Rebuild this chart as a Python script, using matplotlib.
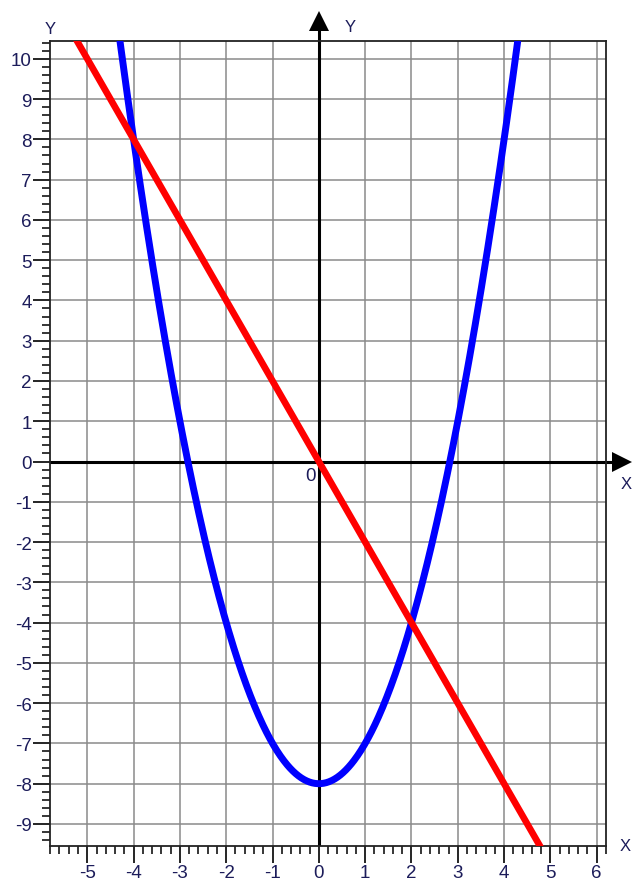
import numpy as np
import matplotlib
matplotlib.use("Agg")
import matplotlib.pyplot as plt
from matplotlib.ticker import MultipleLocator, FixedLocator

# y = x^2 - 8 (blue) and y = -2x (red)
parabola_coeffs = [1, 0, -8]
line_coeffs = [-2, 0]

x_ticks = [-5, -4, -3, -2, -1, 0, 1, 2, 3, 4, 5, 6]
y_ticks = [-9, -8, -7, -6, -5, -4, -3, -2, -1, 0, 1, 2, 3, 4, 5, 6, 7, 8, 9, 10]
x_range = (-5.805, 6.20)
y_range = (-9.54, 10.45)

label_color = "#1c1c5a"
plt.rcParams["font.family"] = ["Liberation Sans", "DejaVu Sans"]

fig = plt.figure(figsize=(6.32, 8.87), dpi=100)
ax = fig.add_axes([50 / 632, 1 - 846.7 / 887, 556 / 632, 805 / 887])
ax.set_xlim(*x_range)
ax.set_ylim(*y_range)

# grid on integer positions
ax.xaxis.set_major_locator(FixedLocator(x_ticks))
ax.yaxis.set_major_locator(FixedLocator(y_ticks))
ax.xaxis.set_minor_locator(MultipleLocator(0.2))
ax.yaxis.set_minor_locator(MultipleLocator(0.2))
ax.grid(True, which="major", color="#8a8a8a", lw=1.1, zorder=0)
ax.set_xticklabels([str(v) for v in x_ticks])
ax.set_yticklabels([str(v) for v in y_ticks])
ax.tick_params(which="major", direction="out", length=12, width=1.2,
               color="black", labelsize=13.5, labelcolor=label_color, pad=1)
ax.tick_params(which="minor", direction="out", length=5.5, width=1.1, color="black")
for s in ax.spines.values():
    s.set_color("#222222")
    s.set_linewidth(1.3)

# coordinate axes, arrowheads sit past the frame
ax.plot(x_range, [0, 0], color="black", lw=2.2, zorder=2)
ax.plot([0, 0], y_range, color="black", lw=2.2, zorder=2)
ax.plot([0, 0], [y_range[1], 10.8], color="black", lw=2.2, clip_on=False, zorder=2)
ax.plot([0], [10.93], marker="^", markersize=15, color="black",
        markeredgewidth=0, clip_on=False, zorder=2)
ax.plot([x_range[1], 6.4], [0, 0], color="black", lw=2.2, clip_on=False, zorder=2)
ax.plot([6.55], [0], marker=">", markersize=15, color="black",
        markeredgewidth=0, clip_on=False, zorder=2)

xs = np.linspace(x_range[0], x_range[1], 800)
ax.plot(xs, np.polyval(parabola_coeffs, xs), color="#0000ff", lw=5.0,
        solid_capstyle="butt", zorder=3)
ax.plot(xs, np.polyval(line_coeffs, xs), color="#ff0000", lw=4.8,
        solid_capstyle="butt", zorder=4)

# axis letters
fig.text(50 / 632, 1 - 29 / 887, "Y", ha="center", va="center",
         fontsize=12, color=label_color)
fig.text(350 / 632, 1 - 27 / 887, "Y", ha="center", va="center",
         fontsize=12, color=label_color)
fig.text(625 / 632, 1 - 847 / 887, "X", ha="center", va="center",
         fontsize=12, color=label_color)
fig.text(626 / 632, 1 - 485 / 887, "X", ha="center", va="center",
         fontsize=12, color=label_color)
fig.text(311 / 632, 1 - 477 / 887, "0", ha="center", va="center",
         fontsize=13.5, color=label_color)

fig.savefig("out.png", dpi=100)
